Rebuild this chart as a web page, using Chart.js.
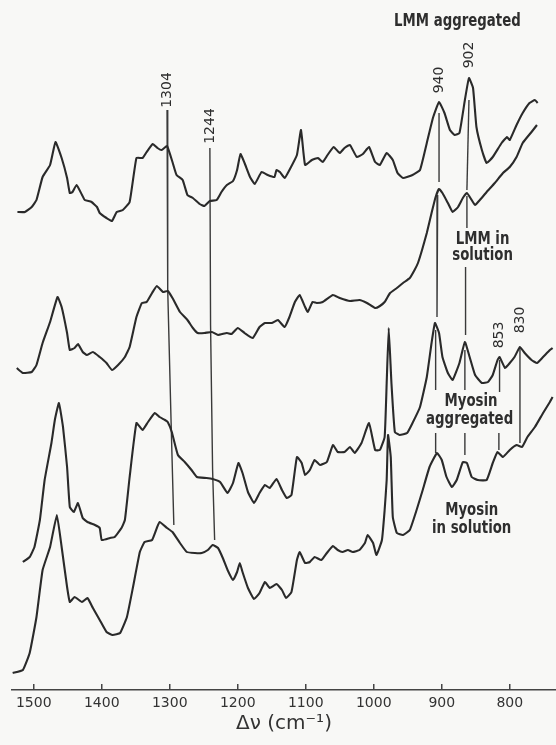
<!DOCTYPE html>
<html>
<head>
<meta charset="utf-8">
<script src="https://cdn.jsdelivr.net/npm/chart.js@4.4.0/dist/chart.umd.min.js"></script>
<style>
html, body { margin: 0; padding: 0; background: #f8f8f6; }
#wrap { position: relative; width: 556px; height: 745px; }
</style>
</head>
<body>
<div id="wrap"><canvas id="ramanChart" width="556" height="745"></canvas></div>
<script>
// Raman shift (cm-1, as read on the printed axis) and relative intensity
var tickValues = [1500, 1400, 1300, 1200, 1100, 1000, 900, 800];

var lmmAggregated = [[1524,478],[1513,478],[1503,483],[1496,490],[1487,513],[1476,525],[1468,548],[1459,532],[1451,512],[1447,497],[1443,498],[1437,505],[1429,495],[1425,490],[1415,488],[1407,483],[1403,477],[1393,472],[1385,469],[1378,478],[1369,480],[1359,488],[1349,532],[1340,532],[1334,538],[1325,546],[1318,542],[1312,540],[1304,544],[1296,528],[1290,515],[1281,510],[1274,495],[1266,492],[1256,486],[1249,484],[1241,489],[1231,490],[1224,498],[1216,505],[1207,509],[1201,520],[1196,536],[1190,527],[1182,513],[1175,506],[1165,518],[1156,515],[1146,513],[1143,520],[1138,518],[1131,512],[1124,520],[1113,535],[1107,560],[1101,525],[1091,530],[1082,532],[1075,528],[1068,535],[1059,543],[1050,537],[1043,542],[1035,545],[1025,533],[1016,536],[1007,543],[998,528],[991,525],[981,537],[972,530],[965,517],[957,512],[943,515],[932,520],[922,547],[913,572],[904,588],[896,577],[888,560],[881,555],[874,557],[866,590],[860,612],[854,602],[849,563],[841,540],[834,527],[825,533],[812,547],[804,553],[800,550],[790,565],[781,577],[771,587],[763,590],[759,587]];

var lmmSolution = [[1525,322],[1516,317],[1503,318],[1496,325],[1487,347],[1476,368],[1465,393],[1459,383],[1451,357],[1447,340],[1440,342],[1435,346],[1428,338],[1422,335],[1413,338],[1403,333],[1393,327],[1385,320],[1376,325],[1366,333],[1359,343],[1349,373],[1341,387],[1334,388],[1326,397],[1319,404],[1310,398],[1303,399],[1296,392],[1285,378],[1274,370],[1266,362],[1259,357],[1249,357],[1238,358],[1229,355],[1216,357],[1209,356],[1200,362],[1190,357],[1178,352],[1168,363],[1160,367],[1150,367],[1141,370],[1131,363],[1124,373],[1116,388],[1109,395],[1101,383],[1097,378],[1090,388],[1084,387],[1075,388],[1060,395],[1050,392],[1035,389],[1021,390],[1010,387],[998,382],[991,384],[984,388],[976,397],[966,402],[957,407],[947,412],[940,420],[935,427],[929,440],[922,457],[915,477],[909,493],[904,501],[899,497],[891,487],[884,478],[876,483],[869,492],[863,497],[856,490],[851,485],[844,490],[834,498],[822,507],[810,517],[800,523],[790,533],[781,547],[768,558],[760,565]];

var myosinAggregated = [[1516,128],[1506,133],[1499,143],[1491,170],[1484,210],[1474,247],[1469,270],[1463,287],[1457,263],[1451,223],[1447,183],[1441,178],[1435,187],[1428,172],[1421,168],[1410,165],[1403,162],[1400,150],[1388,152],[1381,153],[1371,162],[1366,170],[1359,213],[1349,267],[1340,260],[1332,268],[1322,277],[1315,273],[1307,270],[1303,268],[1297,258],[1288,235],[1278,228],[1268,220],[1260,213],[1246,212],[1237,211],[1226,208],[1215,197],[1207,207],[1199,227],[1193,217],[1185,198],[1176,187],[1168,197],[1160,205],[1153,202],[1143,211],[1135,200],[1128,192],[1121,195],[1113,233],[1106,227],[1101,215],[1094,220],[1087,230],[1079,225],[1069,228],[1060,245],[1053,238],[1043,238],[1035,243],[1028,237],[1018,247],[1007,267],[998,240],[991,240],[984,253],[981,307],[978,362],[974,307],[969,258],[962,255],[951,257],[943,267],[932,283],[922,313],[915,347],[910,367],[904,357],[899,333],[891,317],[884,310],[874,327],[866,348],[859,333],[851,315],[841,307],[832,308],[825,315],[818,330],[815,333],[807,322],[800,327],[793,333],[785,343],[778,337],[768,330],[760,327],[751,333],[741,340],[737,342]];

var myosinSolution = [[1531,17],[1516,20],[1506,37],[1496,73],[1487,120],[1476,143],[1466,175],[1459,143],[1451,103],[1447,88],[1440,93],[1429,88],[1421,92],[1413,82],[1403,70],[1393,58],[1384,55],[1373,57],[1363,73],[1354,103],[1344,138],[1337,148],[1326,150],[1319,162],[1315,168],[1304,162],[1296,158],[1285,147],[1275,138],[1263,137],[1253,137],[1244,140],[1237,145],[1229,142],[1222,132],[1215,120],[1207,110],[1201,118],[1197,127],[1193,118],[1185,102],[1176,91],[1168,97],[1160,108],[1153,102],[1143,106],[1135,100],[1129,92],[1121,98],[1113,130],[1109,138],[1101,127],[1094,128],[1087,133],[1077,130],[1069,137],[1060,144],[1053,140],[1046,138],[1038,140],[1031,138],[1021,140],[1013,147],[1009,155],[1001,147],[996,135],[988,150],[984,180],[981,210],[979,255],[975,233],[972,173],[966,157],[957,155],[947,160],[937,180],[928,200],[918,223],[907,237],[900,230],[893,213],[885,203],[878,210],[869,228],[863,227],[856,213],[847,210],[834,210],[825,227],[818,238],[810,233],[800,240],[790,245],[782,243],[774,253],[763,263],[751,277],[741,288],[737,293]];

// peak marker lines, each a list of segments
var guide1304 = [[[1304,580],[1303,400],[1298,267],[1294,165]]];
var guide1244 = [[[1241,542],[1240,365],[1237,220],[1234,150]]];
var guide940 = [[[904,577],[904,508]], [[906,495],[907,373]], [[909,360],[909,300]], [[909,257],[909,237]]];
var guide902 = [[[860,590],[863,500]], [[863,494],[863,462]], [[865,423],[865,355]], [[866,340],[866,300]], [[866,257],[866,235]]];
var guide853 = [[[815,330],[815,298]], [[816,257],[816,240]]];
var guide830 = [[[785,342],[785,247]]];

var peakLabels = [['1304',1303,600],['1244',1240,564],['940',903,610],['902',860,635],['853',815,355],['830',784,370]];
var traceLabels = [['LMM aggregated',877,668],['LMM in',840,450],['solution',840,434],['Myosin',857,288],['aggregated',859,270],['Myosin',856,179],['in solution',856,161]];

function toXY(arr) {
    return arr.map(function(p) { return {x: p[0], y: p[1]}; });
}

var datasets = [];
[lmmAggregated, lmmSolution, myosinAggregated, myosinSolution].forEach(function(s) {
    datasets.push({data: toXY(s), borderColor: '#2a2a2a', borderWidth: 2.1, tension: 0.12,
        pointRadius: 0, fill: false});
});
[guide1304, guide1244, guide940, guide902, guide853, guide830].forEach(function(g) {
    g.forEach(function(seg) {
        datasets.push({data: toXY(seg), borderColor: '#3a3a3a', borderWidth: 1.4, tension: 0,
            pointRadius: 0, fill: false});
    });
});

var annotate = {
    id: 'annotate',
    afterDraw: function(chart) {
        var ctx = chart.ctx, xs = chart.scales.x, ys = chart.scales.y;
        var bottom = chart.chartArea.bottom;
        ctx.save();
        // tick marks point up from the axis line
        ctx.strokeStyle = '#444';
        ctx.lineWidth = 1.5;
        xs.ticks.forEach(function(t) {
            var px = xs.getPixelForValue(t.value);
            ctx.beginPath();
            ctx.moveTo(px, bottom);
            ctx.lineTo(px, bottom - 6);
            ctx.stroke();
        });

        ctx.fillStyle = '#2e2e2e';
        ctx.textAlign = 'center';
        ctx.textBaseline = 'middle';
        ctx.font = '14px "DejaVu Sans"';
        peakLabels.forEach(function(p) {
            ctx.save();
            ctx.translate(xs.getPixelForValue(p[1]), ys.getPixelForValue(p[2]));
            ctx.rotate(-Math.PI / 2);
            ctx.fillText(p[0], 0, 0);
            ctx.restore();
        });

        // narrow lettering, like the stencil labels of the original
        ctx.font = 'bold 17px "DejaVu Sans Condensed", "DejaVu Sans", sans-serif';
        traceLabels.forEach(function(p) {
            ctx.save();
            ctx.translate(xs.getPixelForValue(p[1]), ys.getPixelForValue(p[2]));
            ctx.scale(0.87, 1);
            ctx.fillText(p[0], 0, 0);
            ctx.restore();
        });
        ctx.restore();
    }
};

var ctx = document.getElementById('ramanChart').getContext('2d');
new Chart(ctx, {
    type: 'line',
    data: {datasets: datasets},
    plugins: [annotate],
    options: {
        responsive: false,
        animation: false,
        layout: {padding: {left: 12, right: 0, top: 0, bottom: 0}},
        plugins: {legend: {display: false}, tooltip: {enabled: false}},
        scales: {
            x: {
                type: 'linear',
                reverse: true,
                min: 732,
                max: 1532,
                afterBuildTicks: function(scale) {
                    scale.ticks = tickValues.map(function(v) { return {value: v}; });
                },
                afterFit: function(scale) { scale.height = 55; },
                grid: {drawOnChartArea: false, drawTicks: false},
                border: {display: true, color: '#444', width: 1.5},
                ticks: {color: '#333', font: {family: 'DejaVu Sans', size: 14}, padding: 5,
                    maxRotation: 0, autoSkip: false,
                    callback: function(v) { return String(v); }},
                title: {display: true, text: 'Δν (cm⁻¹)', color: '#333',
                    font: {family: 'DejaVu Sans', size: 20}, padding: {top: 0, bottom: 9}}
            },
            y: {display: false, min: 0, max: 690}
        }
    }
});
</script>
</body>
</html>
